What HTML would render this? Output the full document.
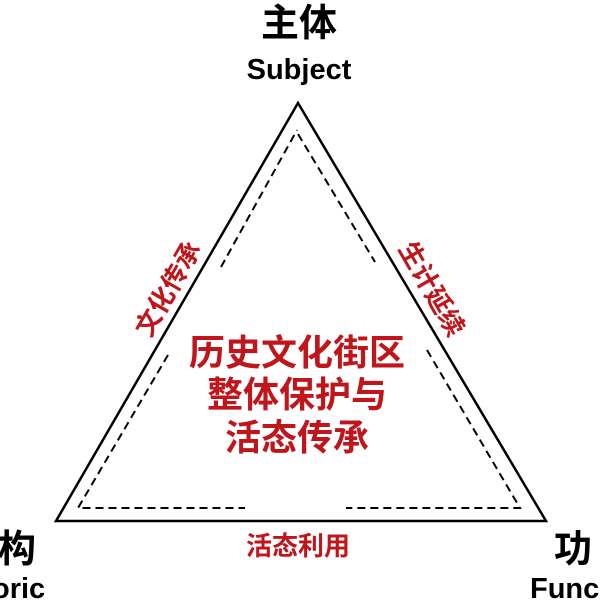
<!DOCTYPE html>
<html><head><meta charset="utf-8"><style>
html,body{margin:0;padding:0;background:#fff;width:600px;height:600px;overflow:hidden}
svg text{font-family:"Liberation Sans","Noto Sans CJK SC",sans-serif;font-weight:bold}
</style></head><body>
<svg width="600" height="600" viewBox="0 0 600 600" xmlns="http://www.w3.org/2000/svg">
<rect width="600" height="600" fill="#fff"/>
<text x="299" y="36" font-size="38" text-anchor="middle" fill="#000">主体</text>
<text x="299" y="79" font-size="29" text-anchor="middle" fill="#000">Subject</text>
<polygon points="298,103 56,521 546,521" fill="none" stroke="#000" stroke-width="2.5"/>
<g fill="none" stroke="#000" stroke-width="2" stroke-dasharray="8,5">
<polyline points="221,267 297,130"/>
<polyline points="298,134 375,262"/>
<polyline points="168,355 78,508 245,508"/>
<polyline points="427,350 520,508 346,508"/>
</g>
<text transform="translate(170,290) rotate(-60)" font-size="26" text-anchor="middle" fill="#c0161b" dominant-baseline="middle">文化传承</text>
<text transform="translate(430,290) rotate(60)" font-size="26" text-anchor="middle" fill="#c0161b" dominant-baseline="middle">生计延续</text>
<text x="297" y="365" font-size="36" text-anchor="middle" fill="#c0161b">历史文化街区</text>
<text x="297" y="407" font-size="36" text-anchor="middle" fill="#c0161b">整体保护与</text>
<text x="297" y="450" font-size="36" text-anchor="middle" fill="#c0161b">活态传承</text>
<text x="298" y="555" font-size="26" text-anchor="middle" fill="#c0161b">活态利用</text>
<text x="-2" y="562" font-size="38" fill="#000">构</text>
<text x="-8" y="598" font-size="29" fill="#000">oric</text>
<text x="554" y="562" font-size="38" fill="#000">功</text>
<text x="530" y="598" font-size="29" fill="#000">Func</text>
</svg>
</body></html>
